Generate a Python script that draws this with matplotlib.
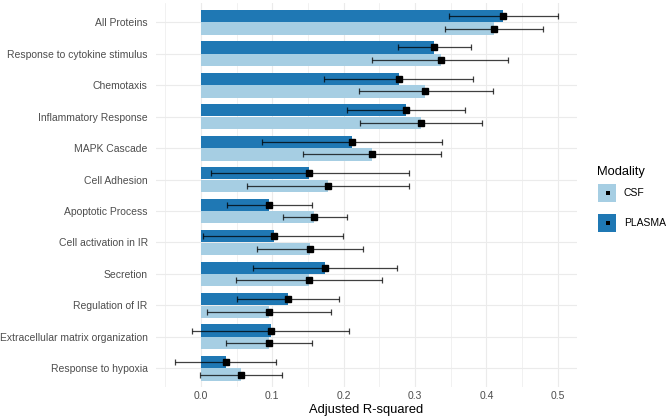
import matplotlib
matplotlib.use("Agg")
import matplotlib.pyplot as plt
from matplotlib.patches import Rectangle
from matplotlib.ticker import MultipleLocator
import numpy as np

plt.rcParams['font.family'] = ['Liberation Sans', 'DejaVu Sans']

categories = ["All Proteins", "Response to cytokine stimulus", "Chemotaxis",
              "Inflammatory Response", "MAPK Cascade", "Cell Adhesion",
              "Apoptotic Process", "Cell activation in IR", "Secretion",
              "Regulation of IR", "Extracellular matrix organization",
              "Response to hypoxia"]

plasma_val = [0.423, 0.327, 0.277, 0.287, 0.212, 0.152, 0.096, 0.102, 0.174, 0.122, 0.0975, 0.0345]
plasma_lo = [0.347, 0.276, 0.172, 0.204, 0.086, 0.014, 0.037, 0.003, 0.073, 0.050, -0.012, -0.036]
plasma_hi = [0.500, 0.379, 0.381, 0.370, 0.338, 0.292, 0.156, 0.199, 0.275, 0.193, 0.207, 0.105]

csf_val = [0.411, 0.336, 0.314, 0.309, 0.240, 0.178, 0.159, 0.153, 0.151, 0.095, 0.095, 0.0555]
csf_lo = [0.342, 0.240, 0.221, 0.223, 0.143, 0.065, 0.115, 0.079, 0.049, 0.008, 0.0345, -0.002]
csf_hi = [0.480, 0.431, 0.409, 0.394, 0.337, 0.291, 0.205, 0.227, 0.254, 0.182, 0.156, 0.114]

modalities = ["CSF", "PLASMA"]
colors = {"CSF": "#A6CEE3", "PLASMA": "#1F78B4"}

W, H = 669, 420
fig = plt.figure(figsize=(W / 100, H / 100), dpi=100)
ax = fig.add_axes([156 / W, 1 - 387.2 / H, (577 - 156) / W, (387.2 - 3.4) / H])

y = np.arange(len(categories))
bh = 0.39
off = 0.2
ax.barh(y - off, plasma_val, height=bh, color=colors["PLASMA"], zorder=2)
ax.barh(y + off, csf_val, height=bh, color=colors["CSF"], zorder=2)

for vals, lo, hi, yy in [(plasma_val, plasma_lo, plasma_hi, y - off),
                         (csf_val, csf_lo, csf_hi, y + off)]:
    vals = np.array(vals)
    xerr = [vals - np.array(lo), np.array(hi) - vals]
    ax.errorbar(vals, yy, xerr=xerr, fmt='none', ecolor='black', alpha=0.75,
                elinewidth=0.9, capsize=2.5, capthick=0.9, zorder=3)
    ax.plot(vals, yy, 's', color='black', markersize=3.8, zorder=4)

ax.set_xlim(-0.063, 0.527)
ax.set_ylim(len(categories) - 0.4, -0.6)
ax.set_yticks(y)
ax.set_yticklabels(categories)
ax.xaxis.set_minor_locator(MultipleLocator(0.05))
ax.set_xticks(np.arange(0, 0.51, 0.1))
ax.set_xticklabels(["0.0", "0.1", "0.2", "0.3", "0.4", "0.5"])
ax.grid(True, which='major', color='#EBEBEB', linewidth=0.8, zorder=0)
ax.grid(True, which='minor', axis='x', color='#EBEBEB', linewidth=0.5, zorder=0)
ax.set_axisbelow(True)
for s in ax.spines.values():
    s.set_visible(False)
ax.tick_params(axis='both', which='both', length=0, labelsize=7.5, labelcolor='#4D4D4D')
ax.tick_params(axis='y', pad=6)
ax.tick_params(axis='x', pad=3)
ax.set_xlabel("Adjusted R-squared", fontsize=9.3, color='black', labelpad=2)

# legend
fig.text(597 / W, 1 - 171.7 / H, "Modality", fontsize=9.3, va='center', ha='left')
for i, m in enumerate(modalities):
    ytop = 184.3 + i * 30
    fig.add_artist(Rectangle((598 / W, 1 - (ytop + 18) / H), 18 / W, 18 / H,
                             transform=fig.transFigure, facecolor=colors[m], edgecolor='none'))
    fig.add_artist(Rectangle((605.5 / W, 1 - (ytop + 11) / H), 4 / W, 4 / H,
                             transform=fig.transFigure, facecolor='black', edgecolor='none'))
    fig.text(624 / W, 1 - (ytop + 9) / H, m, fontsize=7.5, va='center', ha='left')

fig.savefig("out.png", dpi=100)
